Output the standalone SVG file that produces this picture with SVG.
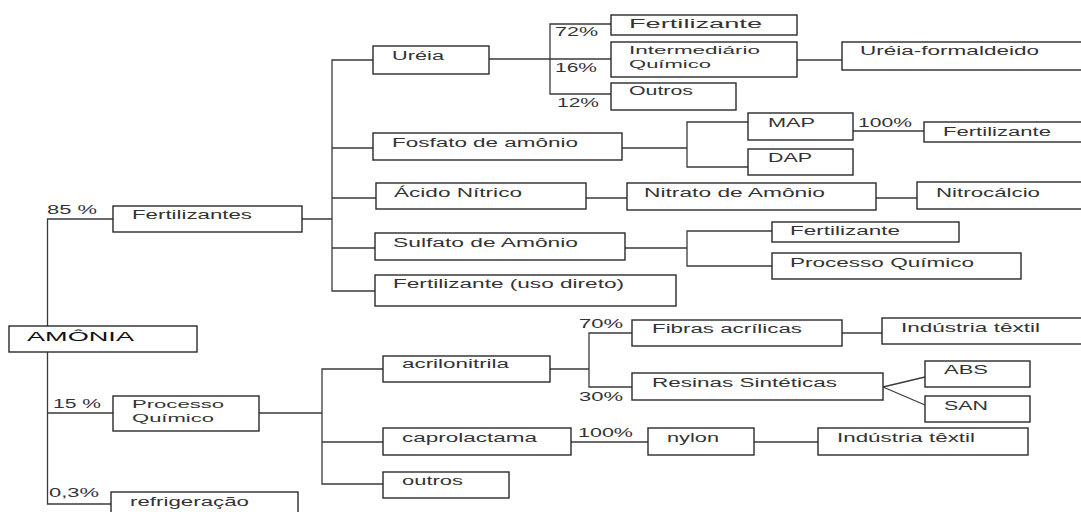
<svg xmlns="http://www.w3.org/2000/svg" width="1081" height="512" viewBox="0 0 1081 512">
<style>
  .box { fill: #ffffff; stroke: #2a2a2a; stroke-width: 1.4; }
  .con { fill: none; stroke: #3a3a3a; stroke-width: 1.3; }
  text { font-family: "Liberation Sans", Arial, sans-serif; font-size: 12px; fill: #333333; }
  .big { font-size: 13px; fill: #111111; }
  .two { font-size: 11.5px; }
</style>
<rect width="1081" height="512" fill="#ffffff"/>
<g id="connectors">
  <path class="con" d="M113,219 H47.5 V326 M47.5,352 V504 H111 M47.5,413 H113"/>
  <path class="con" d="M302,219 H332 M373,60 H332 V291 H375 M332,148 H373 M332,198 H376 M332,248 H375"/>
  <path class="con" d="M489,59 H550 M611,24 H550 V94 H611 M550,59 H611"/>
  <path class="con" d="M797,60 H842"/>
  <path class="con" d="M622,148 H687 M748,122 H687 V167 H748"/>
  <path class="con" d="M853,131 H924"/>
  <path class="con" d="M586,198 H627 M876,198 H917"/>
  <path class="con" d="M625,248 H687 M772,231 H687 V266 H772"/>
  <path class="con" d="M259,413 H322 M383,369 H322 V484 H383 M322,442 H383"/>
  <path class="con" d="M550,369 H589 M632,333 H589 V387 H632"/>
  <path class="con" d="M571,442 H648 M754,442 H818"/>
  <path class="con" d="M842,333 H882"/>
  <path class="con" d="M883,387 L925,377 M883,387 L925,405"/>
</g>
<g id="labels">
  <text x="47" y="214" textLength="50" lengthAdjust="spacingAndGlyphs">85 %</text>
  <text x="53" y="408" textLength="48" lengthAdjust="spacingAndGlyphs">15 %</text>
  <text x="49" y="497" textLength="50" lengthAdjust="spacingAndGlyphs">0,3%</text>
  <text x="555" y="36" textLength="43" lengthAdjust="spacingAndGlyphs">72%</text>
  <text x="555" y="72" textLength="42" lengthAdjust="spacingAndGlyphs">16%</text>
  <text x="557" y="107" textLength="42" lengthAdjust="spacingAndGlyphs">12%</text>
  <text x="858" y="127" textLength="54" lengthAdjust="spacingAndGlyphs">100%</text>
  <text x="579" y="328" textLength="44" lengthAdjust="spacingAndGlyphs">70%</text>
  <text x="579" y="401" textLength="44" lengthAdjust="spacingAndGlyphs">30%</text>
  <text x="578" y="437" textLength="55" lengthAdjust="spacingAndGlyphs">100%</text>
</g>
<g id="amonia"><rect class="box" x="9" y="326" width="188" height="26"/><text class="big" x="27" y="341" textLength="107" lengthAdjust="spacingAndGlyphs">AMÔNIA</text></g>
<g id="fertilizantes"><rect class="box" x="113" y="206" width="189" height="26"/><text x="132" y="219" textLength="120" lengthAdjust="spacingAndGlyphs">Fertilizantes</text></g>
<g id="processo-quimico"><rect class="box" x="113" y="396" width="146" height="35"/><text class="two" x="132" y="408" textLength="92" lengthAdjust="spacingAndGlyphs">Processo</text><text class="two" x="132" y="422" textLength="82" lengthAdjust="spacingAndGlyphs">Químico</text></g>
<g id="refrigeracao"><rect class="box" x="111" y="492" width="187" height="30"/><text x="130" y="506" textLength="119" lengthAdjust="spacingAndGlyphs">refrigeração</text></g>
<g id="ureia"><rect class="box" x="373" y="46" width="116" height="28"/><text x="392" y="60" textLength="52" lengthAdjust="spacingAndGlyphs">Uréia</text></g>
<g id="fosfato"><rect class="box" x="373" y="133" width="249" height="27"/><text x="392" y="147" textLength="186" lengthAdjust="spacingAndGlyphs">Fosfato de amônio</text></g>
<g id="acido-nitrico"><rect class="box" x="376" y="183" width="210" height="26"/><text x="394" y="197" textLength="128" lengthAdjust="spacingAndGlyphs">Ácido Nítrico</text></g>
<g id="sulfato"><rect class="box" x="375" y="233" width="250" height="27"/><text x="393" y="247" textLength="185" lengthAdjust="spacingAndGlyphs">Sulfato de Amônio</text></g>
<g id="fert-uso-direto"><rect class="box" x="375" y="275" width="301" height="31"/><text x="393" y="288" textLength="231" lengthAdjust="spacingAndGlyphs">Fertilizante (uso direto)</text></g>
<g id="fert-ureia"><rect class="box" x="611" y="15" width="186" height="20"/><text x="629" y="28" textLength="133" lengthAdjust="spacingAndGlyphs">Fertilizante</text></g>
<g id="intermediario"><rect class="box" x="611" y="42" width="186" height="35"/><text class="two" x="629" y="54" textLength="131" lengthAdjust="spacingAndGlyphs">Intermediário</text><text class="two" x="629" y="68" textLength="82" lengthAdjust="spacingAndGlyphs">Químico</text></g>
<g id="outros-ureia"><rect class="box" x="611" y="83" width="125" height="27"/><text x="629" y="95" textLength="64" lengthAdjust="spacingAndGlyphs">Outros</text></g>
<g id="ureia-formaldeido"><rect class="box" x="842" y="42" width="250" height="28"/><text x="860" y="55" textLength="179" lengthAdjust="spacingAndGlyphs">Uréia-formaldeido</text></g>
<g id="map"><rect class="box" x="748" y="113" width="105" height="27"/><text x="768" y="127" textLength="47" lengthAdjust="spacingAndGlyphs">MAP</text></g>
<g id="dap"><rect class="box" x="748" y="149" width="105" height="26"/><text x="768" y="162" textLength="44" lengthAdjust="spacingAndGlyphs">DAP</text></g>
<g id="fert-map"><rect class="box" x="924" y="122" width="170" height="20"/><text x="943" y="136" textLength="108" lengthAdjust="spacingAndGlyphs">Fertilizante</text></g>
<g id="nitrato"><rect class="box" x="627" y="183" width="249" height="27"/><text x="644" y="197" textLength="181" lengthAdjust="spacingAndGlyphs">Nitrato de Amônio</text></g>
<g id="nitrocalcio"><rect class="box" x="917" y="182" width="170" height="27"/><text x="936" y="197" textLength="104" lengthAdjust="spacingAndGlyphs">Nitrocálcio</text></g>
<g id="fert-sulfato"><rect class="box" x="772" y="222" width="187" height="20"/><text x="790" y="235" textLength="110" lengthAdjust="spacingAndGlyphs">Fertilizante</text></g>
<g id="proc-quim-sulfato"><rect class="box" x="772" y="253" width="249" height="26"/><text x="790" y="267" textLength="184" lengthAdjust="spacingAndGlyphs">Processo Químico</text></g>
<g id="acrilonitrila"><rect class="box" x="383" y="356" width="167" height="26"/><text x="402" y="368" textLength="107" lengthAdjust="spacingAndGlyphs">acrilonitrila</text></g>
<g id="caprolactama"><rect class="box" x="383" y="428" width="188" height="27"/><text x="402" y="442" textLength="135" lengthAdjust="spacingAndGlyphs">caprolactama</text></g>
<g id="outros-pq"><rect class="box" x="383" y="472" width="126" height="26"/><text x="402" y="485" textLength="61" lengthAdjust="spacingAndGlyphs">outros</text></g>
<g id="fibras"><rect class="box" x="632" y="320" width="210" height="26"/><text x="652" y="333" textLength="150" lengthAdjust="spacingAndGlyphs">Fibras acrílicas</text></g>
<g id="resinas"><rect class="box" x="632" y="373" width="251" height="27"/><text x="652" y="387" textLength="185" lengthAdjust="spacingAndGlyphs">Resinas Sintéticas</text></g>
<g id="nylon"><rect class="box" x="648" y="428" width="106" height="27"/><text x="667" y="442" textLength="52" lengthAdjust="spacingAndGlyphs">nylon</text></g>
<g id="textil-1"><rect class="box" x="882" y="318" width="210" height="26"/><text x="901" y="332" textLength="139" lengthAdjust="spacingAndGlyphs">Indústria têxtil</text></g>
<g id="abs"><rect class="box" x="925" y="361" width="105" height="26"/><text x="944" y="374" textLength="44" lengthAdjust="spacingAndGlyphs">ABS</text></g>
<g id="san"><rect class="box" x="925" y="396" width="105" height="26"/><text x="944" y="410" textLength="44" lengthAdjust="spacingAndGlyphs">SAN</text></g>
<g id="textil-2"><rect class="box" x="818" y="428" width="210" height="27"/><text x="837" y="442" textLength="138" lengthAdjust="spacingAndGlyphs">Indústria têxtil</text></g>
</svg>
